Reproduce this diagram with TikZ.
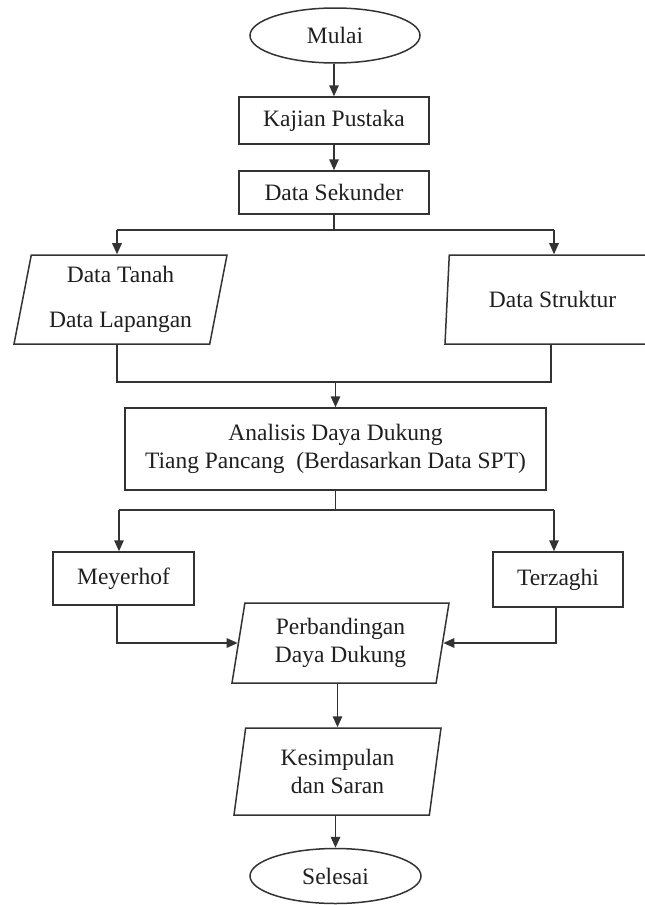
\documentclass[tikz,border=0pt]{standalone}
\usepackage{fontspec}
\setmainfont{Liberation Serif}
\usetikzlibrary{shapes.geometric,arrows.meta}
\begin{document}
\begin{tikzpicture}[x=1pt,y=-1pt,
  every node/.style={font=\fontsize{23.5}{28.5}\selectfont, text=black!88, align=center, inner sep=0pt},
  box/.style={draw=black!80, line width=1.5pt, rectangle},
  term/.style={draw=black!80, line width=1.5pt, ellipse},
  io/.style={draw=black!80, line width=1.5pt, trapezium, trapezium left angle=75.5, trapezium right angle=104.5, trapezium stretches body},
  conn/.style={draw=black!80, line width=1.5pt},
  arr/.style={conn, -{Triangle[length=11pt,width=9.5pt]}}
]
\path[use as bounding box] (0,0) rectangle (645,905);
\clip (0,0) rectangle (645,905);

\node[term, minimum width=170pt, minimum height=55pt] (mulai) at (335,35.5) {Mulai};
\node[box, minimum width=190pt, minimum height=47pt] (kaj) at (334,120.5) {Kajian Pustaka};
\node[box, minimum width=190pt, minimum height=43pt] (sek) at (334,192.5) {Data Sekunder};
\node[io, minimum width=213pt, minimum height=89pt] (tanah) at (120.5,299.5) {Data Tanah\\[17pt]Data Lapangan};
\node[io, minimum width=215pt, minimum height=89pt] (struk) at (552.5,299.5) {Data Struktur};
\node[box, minimum width=421pt, minimum height=82pt] (anal) at (335.5,449) {Analisis Daya Dukung\\Tiang Pancang\ \ (Berdasarkan Data SPT)};
\node[box, minimum width=141pt, minimum height=53pt] (mey) at (123.5,578.5) {Meyerhof};
\node[box, minimum width=130pt, minimum height=55pt] (ter) at (558,579.5) {Terzaghi};
\node[io, minimum width=217pt, minimum height=80pt] (perb) at (340.5,643) {Perbandingan\\Daya Dukung};
\node[io, minimum width=207pt, minimum height=87pt] (kes) at (337.5,771.5) {Kesimpulan\\dan Saran};
\node[term, minimum width=171pt, minimum height=55pt] (sel) at (335.5,876) {Selesai};

\draw[arr] (kaj.north |- mulai.south) -- (kaj.north);
\draw[arr] (kaj) -- (sek);

\coordinate (jl) at (117,230);
\coordinate (jr) at (554,230);
\draw[conn] (sek.south) -- (sek.south |- jl);
\draw[conn] (jl) -- (jr);
\draw[arr] (jl) -- (jl |- tanah.north);
\draw[arr] (jr) -- (jr |- struk.north);

\coordinate (bl) at (117,382);
\coordinate (br) at (551,382);
\draw[conn] (tanah.south -| bl) -- (bl) -- (br) -- (struk.south -| br);
\draw[arr] (anal.north |- bl) -- (anal.north);

\coordinate (cl) at (119,510);
\coordinate (cr) at (554,510);
\draw[conn] (anal.south) -- (anal.south |- cl);
\draw[conn] (cl) -- (cr);
\draw[arr] (cl) -- (cl |- mey.north);
\draw[arr] (cr) -- (cr |- ter.north);

\coordinate (mx) at (117,643);
\coordinate (tx) at (556,643);
\draw[arr] (mey.south -| mx) |- (perb);
\draw[arr] (ter.south -| tx) |- (perb);

\draw[arr] (kes.north |- perb.south) -- (kes.north);
\draw[arr] (sel.north |- kes.south) -- (sel.north);
\end{tikzpicture}
\end{document}
